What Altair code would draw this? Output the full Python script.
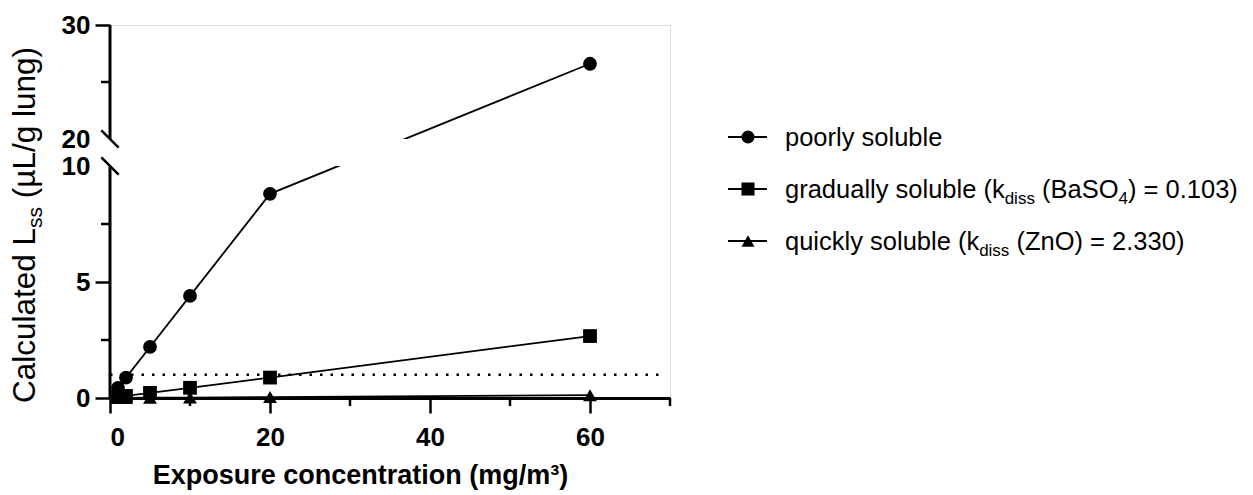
import altair as alt
import pandas as pd

# ---------------- data ----------------
conc = [1, 2, 5, 10, 20, 60]
poorly = [0.44, 0.88, 2.2, 4.4, 8.8, 26.6]
gradually = [0.044, 0.088, 0.22, 0.44, 0.88, 2.67]
quickly = [0.002, 0.004, 0.01, 0.02, 0.04, 0.12]
series_names = ["poorly soluble", "gradually soluble", "quickly soluble"]
shapes = ["circle", "square", "triangle-up"]
threshold = [1.0]
threshold_x = [0, 69]
x_ticks = [0, 20, 40, 60]
x_minor = [10, 30, 50, 70]
y_ticks = [0, 5, 10, 20, 30]
y_minor = [2.5, 7.5, 25]
y_breaks = [10, 20]

W, H = 560, 373
FONT = "Liberation Sans"

# ---------------- text width helper (Arial metrics) ----------------
AW = {c: 556 for c in "abdeghnopqu0123456789"}
AW.update({"c": 500, "f": 278, "i": 222, "j": 222, "k": 500, "l": 222, "m": 833,
           "r": 333, "s": 500, "t": 278, "v": 500, "w": 722, "x": 500, "y": 500,
           "z": 500, "B": 667, "C": 722, "L": 556, "O": 778, "S": 667, "Z": 611,
           " ": 278, "(": 333, ")": 333, "=": 584, ".": 278, "/": 278, "µ": 576})


def tw(s, size):
    return sum(AW.get(ch, 556) for ch in s) * size / 1000.0


rows = []
for name, vals in zip(series_names, [poorly, gradually, quickly]):
    for c, v in zip(conc, vals):
        rows.append({"conc": c, "value": v, "series": name})
df = pd.DataFrame(rows)

yscale = alt.Scale(domain=[0, 10, 20, 30], range=[H, 141, 114, 0], nice=False, zero=False)
xscale = alt.Scale(domain=[0, 70], nice=False, zero=False)

base = alt.Chart(df)

xaxis = alt.Axis(values=x_ticks, tickSize=15, tickWidth=2.5, tickColor="black",
                 domainColor="black", domainWidth=3, labelFont=FONT, labelFontSize=26,
                 labelFontWeight="bold", labelColor="black", labelPadding=11,
                 title="Exposure concentration (mg/m³)", titleFont=FONT, titleFontSize=27,
                 titleFontWeight="bold", titleColor="black", titleX=250, titleY=85,
                 titleBaseline="alphabetic", titleAlign="center", grid=False)
yaxis = alt.Axis(values=y_ticks, tickSize=15, tickWidth=2.5, tickColor="black",
                 tickOpacity={"condition": {"test": "datum.value === 10 || datum.value === 20",
                                            "value": 0}, "value": 1},
                 domain=False, labelFont=FONT, labelFontSize=26, labelFontWeight="bold",
                 labelColor="black", labelPadding=5, title=None, grid=False)

lines = base.mark_line(color="black", strokeWidth=1.8).encode(
    x=alt.X("conc:Q", scale=xscale, axis=xaxis),
    y=alt.Y("value:Q", scale=yscale, axis=yaxis),
    detail="series:N",
)
points = base.mark_point(filled=True, color="black", opacity=1, size=190).encode(
    x=alt.X("conc:Q", scale=xscale),
    y=alt.Y("value:Q", scale=yscale),
    shape=alt.Shape("series:N", scale=alt.Scale(domain=series_names, range=shapes), legend=None),
)

thr_df = pd.DataFrame({"x": [threshold_x[0]], "x2": [threshold_x[1]], "y": threshold})
thr = alt.Chart(thr_df).mark_rule(color="black", strokeWidth=2.5, strokeDash=[2.5, 8]).encode(
    x=alt.X("x:Q", scale=xscale), x2="x2:Q", y=alt.Y("y:Q", scale=yscale))

yline = alt.Chart(pd.DataFrame({"a": [0], "b": [30]})).mark_rule(color="black", strokeWidth=3).encode(
    x=alt.datum(0, scale=xscale), y=alt.Y("a:Q", scale=yscale), y2="b:Q")

gap = alt.Chart(pd.DataFrame({"a": [y_breaks[0]], "b": [y_breaks[1]]})).mark_rect(color="white").encode(
    x=alt.value(-8), x2=alt.value(W), y=alt.Y("a:Q", scale=yscale), y2="b:Q")

breaks = alt.Chart(pd.DataFrame({"y": y_breaks})).mark_point(
    shape="M-1,-1L1,1", filled=False, color="black", strokeWidth=2.5, size=300, opacity=1).encode(
    x=alt.datum(0, scale=xscale), y=alt.Y("y:Q", scale=yscale))

ymin = alt.Chart(pd.DataFrame({"y": y_minor})).mark_rule(color="black", strokeWidth=2.5).encode(
    x=alt.value(-9), x2=alt.value(0), y=alt.Y("y:Q", scale=yscale))
xmin = alt.Chart(pd.DataFrame({"x": x_minor})).mark_rule(color="black", strokeWidth=2.5).encode(
    x=alt.X("x:Q", scale=xscale), y=alt.value(H), y2=alt.value(H + 8))

layers = [lines, thr, points, yline, gap, breaks, ymin, xmin]


def add_pieces(parts, x0, y0, fs_main, fs_sub, sub_shift, angle=0):
    """Place text pieces one after another; subscripts are smaller and lowered."""
    pos = 0.0
    one = alt.Chart(pd.DataFrame({"k": [0]}))
    for txt, sub in parts:
        fs = fs_sub if sub else fs_main
        lead = len(txt) - len(txt.lstrip(" "))
        pos += tw(" " * lead, fs)
        core = txt.strip(" ")
        trail = len(txt) - lead - len(core)
        if angle == 0:
            xv, yv = x0 + pos, y0 + (sub_shift if sub else 0)
        else:
            xv, yv = x0 + (sub_shift if sub else 0), y0 - pos
        kw = dict(text=core, font=FONT, fontSize=fs, align="left", baseline="alphabetic",
                  color="black")
        if angle:
            kw["angle"] = angle
        layers.append(one.mark_text(**kw).encode(x=alt.value(xv), y=alt.value(yv)))
        pos += tw(core, fs) + tw(" " * trail, fs)


# ---------------- custom legend ----------------
LF, SF = 25.5, 17
leg_x0 = 675
leg_base = [121, 173, 225]
leg_parts = [
    [("poorly soluble", False)],
    [("gradually soluble (k", False), ("diss", True), (" (BaSO", False), ("4", True), (") = 0.103)", False)],
    [("quickly soluble (k", False), ("diss", True), (" (ZnO) = 2.330)", False)],
]
for i, (parts, shp) in enumerate(zip(leg_parts, shapes)):
    yb = leg_base[i]
    yc = yb - 9
    one = alt.Chart(pd.DataFrame({"k": [series_names[i]]}))
    layers.append(one.mark_rule(color="black", strokeWidth=1.8).encode(
        x=alt.value(618), x2=alt.value(657), y=alt.value(yc)))
    layers.append(one.mark_point(shape=shp, filled=True, color="black", opacity=1, size=170).encode(
        x=alt.value(638), y=alt.value(yc)))
    add_pieces(parts, leg_x0, yb, LF, SF, 6)

# ---------------- y title (rotated, with subscript) ----------------
ty_parts = [("Calculated L", False), ("ss", True), (" (µL/g lung)", False)]
add_pieces(ty_parts, -75, 378, 31.5, 21, 7, angle=270)

chart = alt.layer(*layers).properties(
    width=W, height=H,
    padding={"left": 102, "top": 17, "right": 1253 - 16 - 102 - W, "bottom": 93},
    autosize=alt.AutoSizeParams(type="none"),
).configure_view(stroke=None).configure(background="white")

chart.save("out.html", embed_options={"renderer": "svg", "actions": False})
